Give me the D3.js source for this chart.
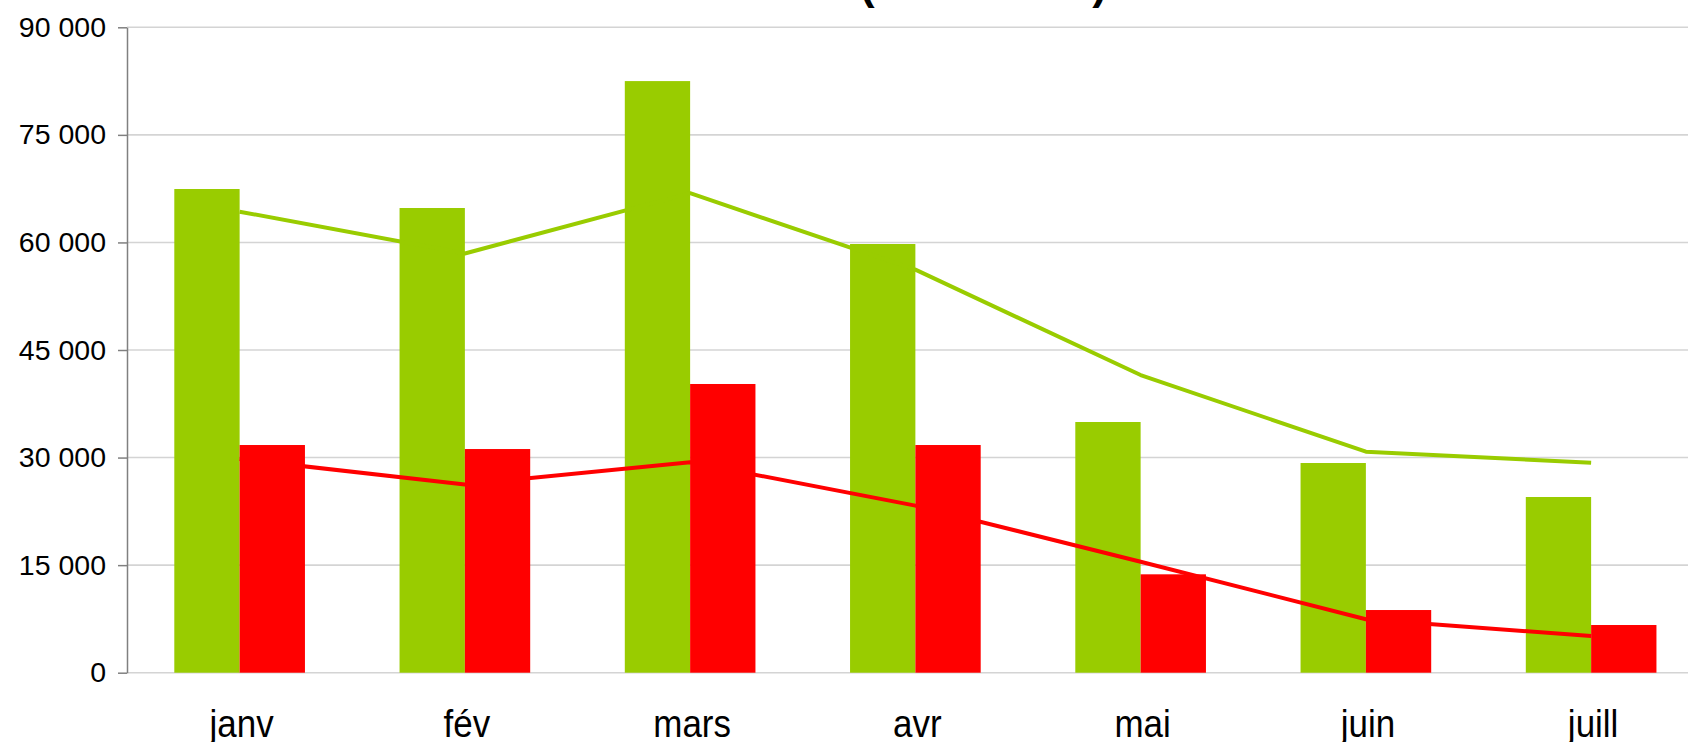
<!DOCTYPE html>
<html>
<head>
<meta charset="utf-8">
<script src="https://cdn.jsdelivr.net/npm/d3@7/dist/d3.min.js"></script>
<style>
  html, body { margin: 0; padding: 0; background: #ffffff; overflow: hidden; }
  svg { display: block; }
  text { font-family: "Liberation Sans", Arial, sans-serif; }
</style>
</head>
<body>
<svg id="chart" width="1688" height="742"></svg>
<script>
// ---- data ----
const titleText = "Ventes 2008 (en milliers)";
const months = ["janv", "fév", "mars", "avr", "mai", "juin", "juill"];
const greenBars = [67450, 64800, 82500, 59780, 34960, 29240, 24500];
const redBars   = [31750, 31190, 40260, 31750, 13720, 8740, 6650];
const greenLine = [64290, 58460, 66870, 56200, 41510, 30820, 29280];
const redLine   = [29800, 26230, 29350, 23300, 15480, 7450, 5120];
const yTicks = [0, 15000, 30000, 45000, 60000, 75000, 90000];

const GREEN = "#99cc00";
const RED = "#ff0000";

const svg = d3.select("#chart");

const x = d3.scaleBand()
  .domain(months)
  .range([127, 1703.75])
  .paddingInner(0.42)
  .paddingOuter(0.21);

const xs = d3.scaleBand().domain(["g", "r"]).range([0, x.bandwidth()]);

const y = d3.scaleLinear().domain([0, 90000]).range([672.7, 27.3]);

const fmt = v => d3.format(",")(v).replace(/,/g, " ");

// title (clipped at top, as in reference)
svg.append("text")
  .attr("x", 1107)
  .attr("y", -1)
  .attr("text-anchor", "end")
  .attr("font-size", 44)
  .attr("font-weight", "bold")
  .attr("fill", "#000")
  .text(titleText);

// gridlines
svg.append("g")
  .selectAll("line")
  .data(yTicks)
  .join("line")
  .attr("x1", 127)
  .attr("x2", 1688)
  .attr("y1", d => y(d))
  .attr("y2", d => y(d))
  .attr("stroke", "#d4d4d4")
  .attr("stroke-width", 1.6);

// bars
const groups = svg.append("g")
  .selectAll("g")
  .data(months)
  .join("g")
  .attr("transform", d => `translate(${x(d)},0)`);

groups.append("rect")
  .attr("x", xs("g"))
  .attr("width", xs.bandwidth())
  .attr("y", (d, i) => y(greenBars[i]))
  .attr("height", (d, i) => y(0) - y(greenBars[i]))
  .attr("fill", GREEN);

groups.append("rect")
  .attr("x", xs("r"))
  .attr("width", xs.bandwidth())
  .attr("y", (d, i) => y(redBars[i]))
  .attr("height", (d, i) => y(0) - y(redBars[i]))
  .attr("fill", RED);

// lines
const line = d3.line()
  .x((d, i) => x(months[i]) + x.bandwidth() / 2)
  .y(d => y(d));

svg.append("path")
  .datum(greenLine)
  .attr("d", line)
  .attr("fill", "none")
  .attr("stroke", GREEN)
  .attr("stroke-width", 4)
  .attr("stroke-linejoin", "round");

svg.append("path")
  .datum(redLine)
  .attr("d", line)
  .attr("fill", "none")
  .attr("stroke", RED)
  .attr("stroke-width", 4)
  .attr("stroke-linejoin", "round");

// y axis
const yAxis = d3.axisLeft(y)
  .tickValues(yTicks)
  .tickSize(9)
  .tickSizeOuter(0)
  .tickPadding(12)
  .tickFormat(fmt);

const ya = svg.append("g")
  .attr("transform", "translate(127,0)")
  .call(yAxis);
ya.select(".domain").attr("stroke", "#808080").attr("stroke-width", 1.5);
ya.selectAll(".tick line").attr("stroke", "#808080").attr("stroke-width", 1.5);
ya.selectAll(".tick text")
  .attr("font-size", 28.5)
  .attr("font-family", "'Liberation Sans', Arial, sans-serif")
  .attr("fill", "#000");

// x labels
svg.append("g")
  .selectAll("text")
  .data(months)
  .join("text")
  .attr("transform", d => `translate(${x(d) + x.bandwidth() / 2 + 2},737) scale(0.92,1)`)
  .attr("text-anchor", "middle")
  .attr("font-size", 38)
  .attr("fill", "#000")
  .text(d => d);
</script>
</body>
</html>
